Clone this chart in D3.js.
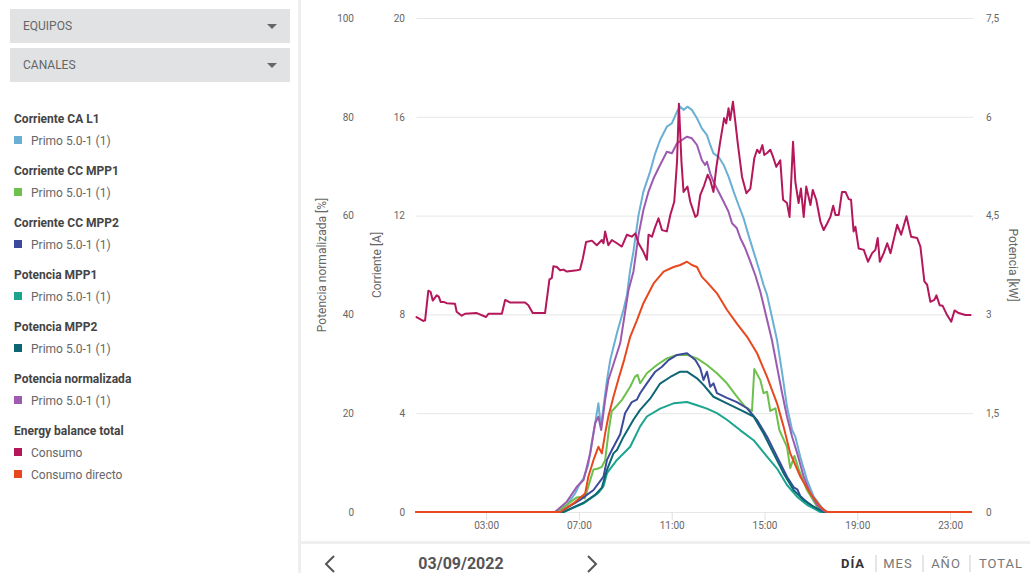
<!DOCTYPE html>
<html>
<head>
<meta charset="utf-8">
<script src="https://cdn.jsdelivr.net/npm/d3@7"></script>
<style>
  html, body { margin: 0; padding: 0; background: #fff; }
  svg { display: block; font-family: Roboto, "Noto Sans", sans-serif; }
</style>
</head>
<body>
<svg id="chart" width="1030" height="573"></svg>
<script>
// ---------------- DATA ----------------
const xTickValues = [3, 7, 11, 15, 19, 23];
const xTickLabels = ["03:00", "07:00", "11:00", "15:00", "19:00", "23:00"];
const pctTicks = [0, 20, 40, 60, 80, 100];
const ampTicks = [0, 4, 8, 12, 16, 20];
const kwTicks = [0, 1.5, 3, 4.5, 6, 7.5];

const dropdownLabels = ["EQUIPOS", "CANALES"];
const legendTitles = ["Corriente CA L1", "Corriente CC MPP1", "Corriente CC MPP2", "Potencia MPP1", "Potencia MPP2", "Potencia normalizada", "Energy balance total"];
const legendItems = [["Primo 5.0-1 (1)"], ["Primo 5.0-1 (1)"], ["Primo 5.0-1 (1)"], ["Primo 5.0-1 (1)"], ["Primo 5.0-1 (1)"], ["Primo 5.0-1 (1)"], ["Consumo", "Consumo directo"]];
const dateLabel = "03/09/2022";
const periodLabels = ["DÍA", "MES", "AÑO", "TOTAL"];

// [hour, A]
const corrienteCA = [[0,0],[5.97,0],[6.48,0.28],[6.84,0.76],[7.05,1.16],[7.20,1.36],[7.40,1.9],[7.56,2.85],[7.70,3.59],[7.84,4.40],[7.95,3.45],[8.06,4.26],[8.21,5.34],[8.35,6.15],[8.64,7.25],[8.92,8.18],[9.07,8.79],[9.21,9.80],[9.35,10.54],[9.57,12.02],[9.78,12.97],[10.07,13.78],[10.29,14.52],[10.50,15.06],[10.79,15.60],[11.01,15.74],[11.23,16.21],[11.37,16.41],[11.51,16.28],[11.68,16.41],[11.87,16.28],[12.09,15.94],[12.30,15.53],[12.52,15.26],[12.66,14.86],[12.80,14.52],[13.02,14.38],[13.24,14.05],[13.45,13.58],[13.67,12.97],[13.88,12.43],[14.10,11.89],[14.31,11.21],[14.53,10.54],[14.75,9.87],[14.96,9.19],[15.11,8.79],[15.54,6.96],[15.76,5.63],[15.97,4.26],[16.19,3.32],[16.33,3.05],[16.54,2.24],[16.83,1.30],[17.12,0.62],[17.55,0.08],[17.67,0],[23.88,0]];
const corrienteMPP1 = [[0,0],[6.05,0],[6.91,0.59],[7.13,0.62],[7.25,0.55],[7.49,1.30],[7.63,1.72],[7.80,1.75],[7.99,1.83],[8.13,2.1],[8.30,3.4],[8.42,4.1],[8.49,4.15],[8.85,4.53],[9.21,5.07],[9.42,5.48],[9.53,5.55],[9.64,5.21],[9.93,5.62],[10.36,5.95],[10.79,6.22],[11.23,6.36],[11.66,6.36],[12.09,6.22],[12.52,5.95],[12.95,5.62],[13.38,5.21],[13.81,4.67],[14.17,4.26],[14.46,4.09],[14.56,5.79],[14.82,5.34],[14.96,4.81],[15.11,4.87],[15.25,4.09],[15.47,4.20],[15.64,3.32],[15.97,2.64],[16.11,1.78],[16.29,2.27],[16.50,1.66],[16.83,0.89],[17.27,0.21],[17.55,0],[23.88,0]];
const corrienteMPP2 = [[0,0],[6.19,0],[7.05,0.49],[7.63,0.89],[8.06,1.43],[8.21,2.11],[8.42,2.51],[8.78,3.15],[8.99,4.0],[9.28,4.45],[9.50,4.55],[9.64,4.81],[9.93,5.21],[10.29,5.68],[10.58,5.88],[10.86,6.15],[11.23,6.36],[11.66,6.43],[12.02,6.15],[12.23,5.82],[12.37,5.34],[12.52,5.68],[12.66,5.07],[12.80,5.21],[12.95,4.81],[13.38,4.62],[13.81,4.45],[14.25,4.2],[14.68,3.72],[15.11,3.05],[15.54,2.24],[15.97,1.43],[16.26,1.0],[16.41,0.92],[16.54,0.65],[16.83,0.4],[17.12,0.2],[17.55,0],[23.88,0]];
// [hour, kW]
const potenciaMPP1 = [[0,0],[6.33,0],[7.20,0.13],[7.84,0.29],[8.06,0.39],[8.21,0.59],[8.64,0.79],[9.21,0.99],[9.64,1.30],[9.93,1.45],[10.50,1.57],[11.08,1.65],[11.66,1.67],[12.09,1.62],[12.52,1.57],[12.95,1.50],[13.38,1.40],[13.96,1.24],[14.53,1.09],[15.11,0.84],[15.54,0.66],[15.97,0.41],[16.41,0.23],[16.83,0.11],[17.41,0],[23.88,0]];
const potenciaMPP2 = [[0,0],[6.33,0],[7.20,0.14],[7.70,0.26],[7.99,0.37],[8.21,0.64],[8.49,0.89],[8.64,0.94],[8.92,1.14],[9.35,1.40],[9.64,1.55],[10.07,1.72],[10.50,1.95],[10.94,2.05],[11.37,2.13],[11.66,2.13],[12.09,2.03],[12.37,1.93],[12.80,1.75],[13.38,1.65],[13.96,1.55],[14.53,1.45],[14.96,1.19],[15.39,0.89],[15.82,0.59],[16.26,0.33],[16.69,0.18],[17.12,0.08],[17.55,0],[23.88,0]];
// [hour, %]
const potenciaNorm = [[0,0],[5.97,0],[6.48,2.09],[6.91,5.12],[7.20,6.48],[7.49,11.88],[7.70,17.96],[7.84,19.29],[7.96,16.60],[8.13,22.67],[8.27,26.72],[8.78,34.15],[9.14,44.94],[9.35,48.64],[9.57,56.07],[9.78,61.13],[10.00,64.84],[10.22,67.55],[10.50,70.24],[10.79,72.94],[11.01,72.61],[11.23,74.64],[11.44,75.30],[11.66,75.97],[11.87,75.65],[12.09,74.29],[12.30,71.26],[12.44,70.24],[12.52,70.91],[12.66,68.56],[12.80,66.86],[13.02,64.84],[13.24,62.81],[13.45,60.79],[13.60,58.44],[13.81,57.43],[13.96,55.41],[14.17,53.38],[14.39,50.67],[14.60,47.98],[14.82,44.60],[15.32,34.82],[15.54,29.41],[15.76,24.03],[15.97,19.29],[16.19,15.24],[16.41,11.88],[16.69,7.15],[16.98,3.79],[17.27,1.42],[17.55,0.26],[17.67,0],[23.88,0]];
// [hour, kW]
const consumo = [[0,2.96],[0.29,2.90],[0.37,2.91],[0.51,3.36],[0.61,3.34],[0.70,3.21],[0.87,3.29],[0.96,3.27],[1.04,3.19],[1.17,3.19],[1.30,3.17],[1.66,3.16],[1.73,3.04],[1.95,2.98],[2.09,3.01],[2.60,3.02],[3.00,2.96],[3.10,3.01],[3.68,3.01],[3.82,3.22],[4.04,3.18],[4.68,3.18],[4.82,3.14],[5.01,3.02],[5.54,3.02],[5.73,3.53],[5.83,3.55],[5.90,3.73],[6.05,3.72],[6.19,3.67],[6.34,3.68],[6.48,3.65],[6.91,3.67],[7.05,3.68],[7.17,3.85],[7.31,4.10],[7.56,4.12],[7.77,4.05],[7.99,4.13],[8.06,4.08],[8.13,4.26],[8.27,4.05],[8.42,4.13],[8.64,4.08],[8.85,4.03],[9.07,4.21],[9.28,4.18],[9.43,4.23],[9.57,4.08],[9.78,3.95],[9.93,3.83],[10.00,4.21],[10.15,4.18],[10.29,4.33],[10.43,4.46],[10.58,4.28],[10.79,4.26],[10.94,4.51],[11.11,4.71],[11.23,5.32],[11.31,6.20],[11.42,5.32],[11.51,4.86],[11.68,4.94],[11.80,4.71],[12.02,4.48],[12.11,4.51],[12.23,4.81],[12.40,4.96],[12.55,5.12],[12.66,5.04],[12.80,4.86],[12.92,5.22],[13.09,5.62],[13.26,5.98],[13.35,5.90],[13.45,6.13],[13.52,5.95],[13.64,6.23],[13.74,5.93],[13.84,5.62],[14.03,5.09],[14.22,4.84],[14.39,4.91],[14.56,5.37],[14.68,5.50],[14.79,5.45],[14.91,5.57],[14.99,5.42],[15.11,5.45],[15.25,5.50],[15.37,5.39],[15.51,5.24],[15.68,5.34],[15.80,4.74],[15.97,4.69],[16.08,4.48],[16.23,5.62],[16.33,5.01],[16.47,4.69],[16.57,4.91],[16.69,4.48],[16.80,4.94],[16.98,4.66],[17.08,4.89],[17.23,4.74],[17.41,4.41],[17.55,4.28],[17.70,4.38],[17.84,4.48],[17.96,4.65],[18.06,4.51],[18.20,4.51],[18.34,4.86],[18.49,4.86],[18.63,4.75],[18.73,4.74],[18.84,4.26],[18.92,4.33],[19.06,4.00],[19.28,3.98],[19.46,3.80],[19.64,3.93],[19.78,3.98],[19.88,4.16],[19.97,3.80],[20.14,3.93],[20.29,4.08],[20.43,3.93],[20.72,4.36],[20.89,4.21],[21.12,4.49],[21.32,4.18],[21.58,4.16],[21.72,4.03],[21.89,3.50],[22.01,3.45],[22.15,3.19],[22.32,3.22],[22.41,3.29],[22.55,3.14],[22.68,3.13],[22.87,2.99],[23.05,2.89],[23.19,3.06],[23.37,3.02],[23.66,2.99],[23.88,2.99]];
const consumoDirecto = [[0,0],[6.19,0],[6.76,0.13],[7.27,0.28],[7.41,0.54],[7.63,0.79],[7.84,0.99],[7.99,0.89],[8.13,1.19],[8.27,1.45],[8.49,1.75],[8.69,2.00],[8.95,2.31],[9.21,2.66],[9.50,2.91],[9.78,3.17],[10.22,3.47],[10.65,3.65],[11.08,3.72],[11.37,3.75],[11.66,3.80],[11.87,3.75],[12.09,3.72],[12.30,3.57],[12.52,3.49],[12.95,3.32],[13.38,3.07],[13.81,2.86],[14.25,2.66],[14.68,2.41],[15.11,2.05],[15.54,1.65],[15.82,1.30],[16.11,0.89],[16.54,0.54],[16.98,0.28],[17.41,0.08],[17.70,0],[23.88,0]];

// ---------------- DRAW ----------------
const svg = d3.select("#chart");
const colors = {
  ca: "#6aafd4", mpp1: "#6cc04c", mpp2: "#3d4a9c", pmpp1: "#1ba58e",
  pmpp2: "#0d6673", norm: "#9d5ab1", consumo: "#b5175b", directo: "#e8481d"
};
const legendColors = [[colors.ca], [colors.mpp1], [colors.mpp2], [colors.pmpp1], [colors.pmpp2], [colors.norm], [colors.consumo, colors.directo]];

// Left panel
svg.append("rect").attr("x", 298).attr("y", 0).attr("width", 3).attr("height", 573).attr("fill", "#efefef");
svg.append("rect").attr("x", 300).attr("y", 541).attr("width", 730).attr("height", 3).attr("fill", "#efefef");

dropdownLabels.forEach((lab, i) => {
  const y0 = 9 + i * 39;
  svg.append("rect").attr("x", 10).attr("y", y0).attr("width", 280).attr("height", 34).attr("fill", "#e1e2e4");
  svg.append("text").attr("x", 23).attr("y", y0 + 21).attr("font-size", 12).attr("fill", "#666").text(lab);
  svg.append("path").attr("d", `M${267},${y0 + 15} L${277},${y0 + 15} L${272},${y0 + 20} Z`).attr("fill", "#666");
});

let ly = 118;
legendTitles.forEach((t, gi) => {
  svg.append("text").attr("x", 14).attr("y", ly + 4.5).attr("font-size", 12).attr("font-weight", "bold").attr("fill", "#444").text(t);
  ly += 22;
  legendItems[gi].forEach((it, ii) => {
    svg.append("rect").attr("x", 14).attr("y", ly - 4).attr("width", 8).attr("height", 8).attr("fill", legendColors[gi][ii]);
    svg.append("text").attr("x", 31).attr("y", ly + 4.5).attr("font-size", 12).attr("fill", "#666").text(it);
    ly += 22;
  });
  ly += 8;
});

// Scales
const x = d3.scaleLinear().domain([0, 24]).range([416.5, 973.3]);
const yA = d3.scaleLinear().domain([0, 20]).range([512, 18]);
const yP = d3.scaleLinear().domain([0, 100]).range([512, 18]);
const yK = d3.scaleLinear().domain([0, 7.5]).range([512, 18]);
const esLocale = d3.formatLocale({ decimal: ",", thousands: ".", grouping: [3], currency: ["", "€"] });
const fmtK = esLocale.format("~g");

// Gridlines
svg.append("g").selectAll("line").data(ampTicks).join("line")
  .attr("x1", x.range()[0]).attr("x2", x.range()[1])
  .attr("y1", d => yA(d) + 0.5).attr("y2", d => yA(d) + 0.5)
  .attr("stroke", "#e6e6e6").attr("stroke-width", 1);

function styleAxis(g) {
  g.select(".domain").remove();
  g.selectAll("text").attr("fill", "#666").attr("font-size", 10).attr("font-family", "Roboto, sans-serif");
  g.selectAll(".tick line").attr("stroke", "#e0e0e0");
}

svg.append("g").attr("transform", "translate(354,0)")
  .call(d3.axisLeft(yP).tickValues(pctTicks).tickSize(0).tickPadding(0)).call(styleAxis);
svg.append("g").attr("transform", "translate(405,0)")
  .call(d3.axisLeft(yA).tickValues(ampTicks).tickSize(0).tickPadding(0)).call(styleAxis);
svg.append("g").attr("transform", "translate(986,0)")
  .call(d3.axisRight(yK).tickValues(kwTicks).tickFormat(fmtK).tickSize(0).tickPadding(0)).call(styleAxis);
svg.append("g").attr("transform", "translate(0,512)")
  .call(d3.axisBottom(x).tickValues(xTickValues).tickFormat((d, i) => xTickLabels[i]).tickSize(8).tickPadding(2)).call(styleAxis);

// Axis titles
svg.append("text").attr("transform", "translate(326,265) rotate(-90)").attr("text-anchor", "middle")
  .attr("font-size", 12).attr("fill", "#666").text("Potencia normalizada [%]");
svg.append("text").attr("transform", "translate(381,265) rotate(-90)").attr("text-anchor", "middle")
  .attr("font-size", 12).attr("fill", "#666").text("Corriente [A]");
svg.append("text").attr("transform", "translate(1009,265) rotate(90)").attr("text-anchor", "middle")
  .attr("font-size", 12).attr("fill", "#666").text("Potencia [kW]");

// Lines
const series = [
  { data: corrienteCA, y: yA, color: colors.ca },
  { data: corrienteMPP1, y: yA, color: colors.mpp1 },
  { data: corrienteMPP2, y: yA, color: colors.mpp2 },
  { data: potenciaMPP1, y: yK, color: colors.pmpp1 },
  { data: potenciaMPP2, y: yK, color: colors.pmpp2 },
  { data: potenciaNorm, y: yP, color: colors.norm },
  { data: consumo, y: yK, color: colors.consumo },
  { data: consumoDirecto, y: yK, color: colors.directo }
];
const gLines = svg.append("g");
series.forEach(s => {
  const line = d3.line().x(d => x(d[0])).y(d => s.y(d[1]));
  gLines.append("path").datum(s.data).attr("d", line)
    .attr("fill", "none").attr("stroke", s.color).attr("stroke-width", 2)
    .attr("stroke-linejoin", "round").attr("stroke-linecap", "round");
});

// Bottom navigation
svg.append("path").attr("d", "M334,556 L326,564 L334,572").attr("fill", "none").attr("stroke", "#555").attr("stroke-width", 2);
svg.append("path").attr("d", "M588,556 L596,564 L588,572").attr("fill", "none").attr("stroke", "#555").attr("stroke-width", 2);
svg.append("text").attr("x", 461).attr("y", 569).attr("text-anchor", "middle").attr("font-size", 16)
  .attr("font-weight", "bold").attr("fill", "#555").text(dateLabel);

const periodX = [853, 898, 946, 1001];
periodLabels.forEach((p, i) => {
  svg.append("text").attr("x", periodX[i]).attr("y", 568).attr("text-anchor", "middle")
    .attr("font-size", 13).attr("letter-spacing", "1px")
    .attr("font-weight", i === 0 ? "bold" : "normal")
    .attr("fill", i === 0 ? "#333" : "#777").text(p);
});
[876, 923, 970].forEach(sx => {
  svg.append("line").attr("x1", sx).attr("x2", sx).attr("y1", 555).attr("y2", 572).attr("stroke", "#ccc");
});
</script>
</body>
</html>
